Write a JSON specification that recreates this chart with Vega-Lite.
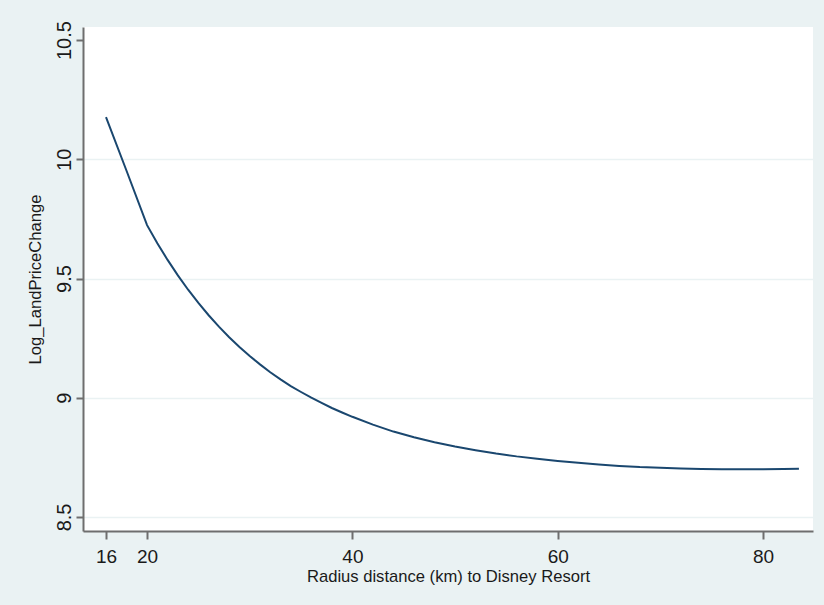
{
  "$schema": "https://vega.github.io/schema/vega-lite/v6.json",
  "autosize": {"type": "none"},
  "padding": {"left": 83, "top": 27, "right": 11, "bottom": 74},
  "width": 730,
  "height": 504,
  "background": "#EAF2F3",
  "config": {
    "view": {"fill": "white", "stroke": null},
    "font": "Liberation Sans"
  },
  "data": {
    "values": [
      {"dist": 16, "val": 10.177},
      {"dist": 18, "val": 9.952},
      {"dist": 20, "val": 9.724},
      {"dist": 21, "val": 9.648},
      {"dist": 22, "val": 9.578},
      {"dist": 23, "val": 9.513},
      {"dist": 24, "val": 9.453},
      {"dist": 25, "val": 9.398},
      {"dist": 26, "val": 9.346},
      {"dist": 27, "val": 9.298},
      {"dist": 28, "val": 9.254},
      {"dist": 29, "val": 9.213},
      {"dist": 30, "val": 9.175},
      {"dist": 31, "val": 9.14},
      {"dist": 32, "val": 9.107},
      {"dist": 33, "val": 9.077},
      {"dist": 34, "val": 9.049},
      {"dist": 35, "val": 9.024},
      {"dist": 36, "val": 9.0},
      {"dist": 37, "val": 8.978},
      {"dist": 38, "val": 8.957},
      {"dist": 39, "val": 8.938},
      {"dist": 40, "val": 8.92},
      {"dist": 42, "val": 8.887},
      {"dist": 44, "val": 8.858},
      {"dist": 46, "val": 8.834},
      {"dist": 48, "val": 8.813},
      {"dist": 50, "val": 8.795},
      {"dist": 52, "val": 8.78},
      {"dist": 54, "val": 8.766},
      {"dist": 56, "val": 8.754},
      {"dist": 58, "val": 8.744},
      {"dist": 60, "val": 8.735},
      {"dist": 62, "val": 8.727},
      {"dist": 64, "val": 8.72},
      {"dist": 66, "val": 8.714},
      {"dist": 68, "val": 8.709},
      {"dist": 70, "val": 8.706},
      {"dist": 72, "val": 8.703},
      {"dist": 74, "val": 8.701},
      {"dist": 76, "val": 8.7},
      {"dist": 78, "val": 8.7},
      {"dist": 80, "val": 8.7},
      {"dist": 82, "val": 8.701},
      {"dist": 83.5, "val": 8.702}
    ]
  },
  "mark": {"type": "line", "color": "#1A476F", "strokeWidth": 2, "interpolate": "linear", "clip": true},
  "encoding": {
    "x": {
      "field": "dist",
      "type": "quantitative",
      "scale": {"domain": [13.76, 84.87], "nice": false, "zero": false},
      "axis": {
        "values": [16, 20, 40, 60, 80],
        "title": "Radius distance (km) to Disney Resort",
        "grid": false,
        "domainColor": "#6E6E6E",
        "domainWidth": 2,
        "tickColor": "#6E6E6E",
        "tickWidth": 2,
        "tickSize": 8,
        "labelFontSize": 19,
        "labelColor": "#1a1a1a",
        "labelBaseline": "alphabetic",
        "labelPadding": 23,
        "labelFlush": false,
        "titleFontSize": 16.6,
        "titleFontWeight": "normal",
        "titleColor": "#1a1a1a",
        "titleBaseline": "alphabetic",
        "titleY": 50
      }
    },
    "y": {
      "field": "val",
      "type": "quantitative",
      "scale": {"domain": [8.441, 10.555], "nice": false, "zero": false},
      "axis": {
        "values": [8.5, 9, 9.5, 10, 10.5],
        "format": "~g",
        "title": "Log_LandPriceChange",
        "grid": true,
        "gridColor": "#EAF2F3",
        "gridWidth": 1.5,
        "gridOpacity": {"condition": {"test": "datum.value == 10.5", "value": 0}, "value": 1},
        "domainColor": "#6E6E6E",
        "domainWidth": 2,
        "tickColor": "#6E6E6E",
        "tickWidth": 2,
        "tickSize": 7,
        "labelAngle": -90,
        "labelAlign": "center",
        "labelBaseline": "alphabetic",
        "labelPadding": 6,
        "labelFontSize": 20,
        "labelColor": "#1a1a1a",
        "labelFlush": false,
        "titleFontSize": 16.6,
        "titleFontWeight": "normal",
        "titleColor": "#1a1a1a",
        "titleAngle": -90,
        "titleBaseline": "alphabetic",
        "titleAlign": "center",
        "titleX": -43,
        "titleY": 252
      }
    }
  }
}
